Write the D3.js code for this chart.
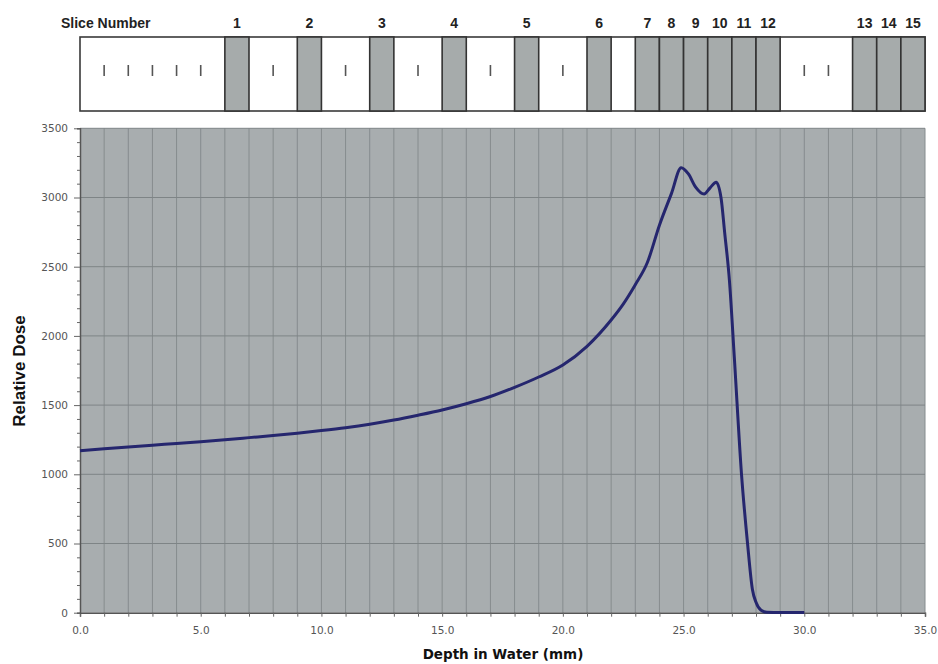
<!DOCTYPE html>
<html><head><meta charset="utf-8">
<script src="https://cdn.jsdelivr.net/npm/d3@7"></script>
<style>body{margin:0;background:#fff}svg{display:block}</style>
</head><body>
<svg id="c" width="938" height="664"></svg>
<script>
// ---- data ----
const depth = [0,1,2,3,4,5,6,7,8,9,10,11,12,13,14,15,16,17,18,19,20,21,22,22.5,23,23.5,24,24.5,24.9,25.2,25.5,25.85,26.1,26.35,26.55,26.7,26.9,27.1,27.4,27.65,27.85,28.0,28.2,28.45,29,30];
const dose  = [1170,1184,1197,1210,1223,1236,1250,1265,1280,1297,1316,1337,1362,1392,1427,1465,1510,1562,1628,1703,1790,1925,2115,2230,2370,2530,2800,3030,3215,3170,3075,3025,3070,3110,3000,2750,2400,1850,1000,500,170,75,20,4,2,2];
const sliceNumbers = [1,2,3,4,5,6,7,8,9,10,11,12,13,14,15];
const sliceStart = [6,9,12,15,18,21,23,24,25,26,27,28,32,33,34];
const markerDepths = [1,2,3,4,5,8,11,14,17,20,30,31];
const xTicks = [0,5,10,15,20,25,30,35];
const yTicks = [0,500,1000,1500,2000,2500,3000,3500];

const svg = d3.select("#c");
const x = d3.scaleLinear().domain([0,35]).range([80,925]);
const y = d3.scaleLinear().domain([0,3500]).range([612.7,128.3]);

// ---- plot background ----
svg.append("rect").attr("x",x(0)).attr("y",y(3500)).attr("width",x(35)-x(0)).attr("height",y(0)-y(3500)).attr("fill","#a8adaf");

// grid
svg.append("g").selectAll("line").data(d3.range(1,36)).join("line")
  .attr("x1",d=>x(d)).attr("x2",d=>x(d)).attr("y1",y(0)).attr("y2",y(3500))
  .attr("stroke","#868c8e").attr("stroke-width",1);
svg.append("g").selectAll("line").data(yTicks.slice(1)).join("line")
  .attr("x1",x(0)).attr("x2",x(35)).attr("y1",d=>y(d)).attr("y2",d=>y(d))
  .attr("stroke","#7e8486").attr("stroke-width",1);

// axes
const xAxis = svg.append("g").attr("transform",`translate(0,${y(0)})`)
  .call(d3.axisBottom(x).tickValues(d3.range(0,36)).tickSize(4).tickFormat(d=> xTicks.includes(d)? d3.format(".1f")(d):""));
const yAxis = svg.append("g").attr("transform",`translate(${x(0)},0)`)
  .call(d3.axisLeft(y).tickValues(d3.range(0,3501,100)).tickSize(3).tickFormat(d=> yTicks.includes(d)? d:""));
[xAxis,yAxis].forEach(g=>{
  g.select(".domain").attr("stroke","#555").attr("stroke-width",1.5);
  g.selectAll(".tick line").attr("stroke","#666");
  g.selectAll("text").attr("font-family","DejaVu Sans, Verdana, sans-serif").attr("font-size",10.5).attr("fill","#555");
});
xAxis.selectAll("text").attr("dy","1.4em");
yAxis.selectAll(".tick").filter(d=>yTicks.includes(d)).select("line").attr("x2",-6);
yAxis.selectAll("text").attr("x",-12);

// curve
svg.append("path").datum(depth.map((d,i)=>[d,dose[i]]))
  .attr("d",d3.line().x(d=>x(d[0])).y(d=>y(d[1])).curve(d3.curveMonotoneX))
  .attr("fill","none").attr("stroke","#25266e").attr("stroke-width",3).attr("stroke-linejoin","round");

// axis titles
svg.append("text").attr("x",503).attr("y",659).attr("text-anchor","middle")
  .attr("font-family","DejaVu Sans, Verdana, sans-serif").attr("font-weight","bold").attr("font-size",13.5).attr("fill","#111")
  .text("Depth in Water (mm)");
svg.append("text").attr("transform","translate(25,371) rotate(-90)").attr("text-anchor","middle")
  .attr("font-family","Liberation Sans Narrow, Arial Narrow, Liberation Sans, sans-serif").attr("font-weight","bold").attr("font-size",17).attr("fill","#111")
  .text("Relative Dose");

// ---- slice strip ----
const top0 = 37, bot0 = 111;
svg.append("rect").attr("x",x(0)).attr("y",top0).attr("width",x(35)-x(0)).attr("height",bot0-top0)
  .attr("fill","#fff").attr("stroke","#3a3a3a").attr("stroke-width",1.6);
svg.append("g").selectAll("rect").data(sliceStart).join("rect")
  .attr("x",d=>x(d)).attr("y",top0).attr("width",d=>x(d+1)-x(d)).attr("height",bot0-top0)
  .attr("fill","#a6abab").attr("stroke","#333").attr("stroke-width",1.6);
svg.append("g").selectAll("line").data(markerDepths).join("line")
  .attr("x1",d=>x(d)).attr("x2",d=>x(d)).attr("y1",65).attr("y2",76)
  .attr("stroke","#555").attr("stroke-width",1.6);
svg.append("g").selectAll("text").data(sliceNumbers).join("text")
  .attr("x",(d,i)=>x(sliceStart[i]+0.5)).attr("y",28).attr("text-anchor","middle")
  .attr("font-family","Liberation Sans Narrow, Arial Narrow, Liberation Sans, sans-serif").attr("font-weight","bold").attr("font-size",14).attr("fill","#222")
  .text(d=>d);
svg.append("text").attr("x",61).attr("y",28)
  .attr("font-family","Liberation Sans Narrow, Arial Narrow, Liberation Sans, sans-serif").attr("font-weight","bold").attr("font-size",14).attr("fill","#222")
  .text("Slice Number");
</script>
</body></html>
